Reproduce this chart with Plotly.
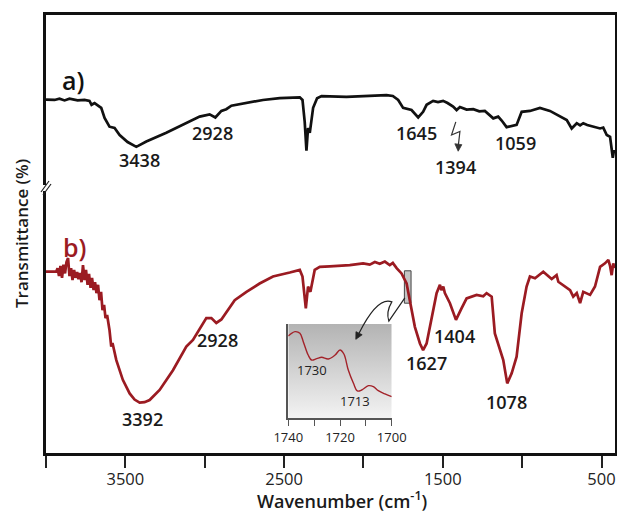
import plotly.graph_objects as go

# ---------------- data ----------------
wn_a = [4000, 3946, 3915, 3883, 3852, 3801, 3757, 3726, 3713, 3694, 3652, 3631, 3600, 3568,
        3536, 3486, 3431, 3368, 3242, 3139, 3032, 2969, 2933, 2895, 2864, 2832, 2780, 2633,
        2527, 2401, 2384, 2370, 2359, 2349, 2338, 2317, 2292, 2264, 2107, 1960, 1855, 1815,
        1781, 1750, 1697, 1655, 1624, 1602, 1561, 1530, 1498, 1470, 1435, 1413, 1392, 1350,
        1308, 1270, 1235, 1182, 1151, 1129, 1098, 1035, 1003, 951, 888, 825, 783, 719, 688,
        656, 635, 615, 590, 552, 509, 489, 467, 446, 436, 429, 421]
t_a = [80.7, 80.6, 80.9, 80.5, 80.9, 80.5, 80.6, 80.4, 79.5, 79.9, 78.8, 76.5, 74.5, 74.2,
       72.6, 71.0, 69.9, 71.1, 73.1, 74.9, 76.8, 77.3, 76.6, 78.1, 78.5, 79.3, 79.6, 80.6,
       81.0, 81.2, 80.6, 75.6, 69.0, 74.2, 73.1, 78.8, 81.0, 81.5, 81.3, 81.5, 81.7, 81.5,
       80.6, 78.8, 78.3, 76.6, 77.9, 79.5, 80.4, 80.1, 80.4, 79.9, 79.1, 78.3, 79.0, 78.4,
       78.5, 78.0, 78.1, 76.4, 76.8, 75.9, 74.4, 74.9, 77.9, 78.1, 78.8, 78.1, 77.2, 76.0, 74.1,
       75.3, 74.8, 75.3, 74.9, 74.5, 74.1, 74.3, 72.6, 72.2, 68.8, 67.4, 69.2]

wn_b = [4000, 3936, 3927, 3918, 3909, 3899, 3890, 3880, 3871, 3861, 3852, 3842, 3833, 3823,
        3814, 3804, 3795, 3786, 3776, 3767, 3757, 3748, 3738, 3729, 3719, 3710, 3700, 3691,
        3682, 3672, 3663, 3653, 3644, 3634, 3625, 3615, 3600, 3589, 3581, 3557, 3516, 3473,
        3442, 3410, 3379, 3347, 3284, 3200, 3116, 3074, 2990, 2958, 2927, 2895, 2811, 2737,
        2654, 2570, 2464, 2401, 2384, 2363, 2349, 2334, 2307, 2275, 2212, 2086, 2002, 1960,
        1928, 1897, 1865, 1834, 1815, 1791, 1760, 1728, 1708, 1676, 1644, 1624, 1602, 1571,
        1539, 1518, 1509, 1497, 1487, 1455, 1417, 1382, 1350, 1287, 1245, 1224, 1192, 1172,
        1140, 1119, 1094, 1066, 1035, 1003, 972, 951, 919, 867, 814, 783, 772, 698, 678, 656,
        635, 615, 572, 541, 509, 478, 457, 446, 436, 426, 418]
t_b = [41.4, 41.4, 42.2, 40.4, 42.7, 40.0, 43.0, 41.0, 43.6, 44.5, 40.4, 42.2, 39.5, 41.8,
       40.0, 41.3, 39.7, 41.1, 39.0, 42.9, 39.5, 41.8, 38.4, 40.9, 37.7, 40.0, 37.2, 39.0,
       36.5, 38.4, 34.9, 36.8, 32.6, 33.8, 30.8, 31.5, 28.1, 24.3, 25.1, 21.2, 16.7, 13.6,
       12.2, 11.5, 11.6, 12.1, 14.4, 18.9, 24.3, 25.8, 30.8, 30.8, 29.7, 30.5, 34.9, 36.8,
       38.7, 40.3, 41.2, 41.8, 40.3, 33.0, 38.0, 36.8, 41.8, 42.5, 42.6, 42.9, 43.3, 43.0,
       43.6, 43.2, 43.7, 42.9, 43.4, 42.2, 41.0, 38.7, 34.9, 28.8, 25.0, 23.5, 25.0, 31.1,
       36.5, 38.4, 37.2, 38.0, 36.5, 34.2, 30.4, 33.0, 35.3, 36.1, 35.8, 36.5, 35.7, 27.3,
       23.5, 21.2, 15.9, 18.2, 22.0, 31.9, 38.0, 40.3, 39.9, 41.4, 39.7, 40.6, 39.1, 37.2, 35.7,
       36.5, 34.2, 36.8, 36.1, 38.0, 42.5, 43.3, 44.1, 42.7, 40.6, 43.3, 42.2]

wn_inset = [1740, 1737.4, 1735.5, 1734.2, 1732.3, 1731, 1729, 1727.1, 1724.5, 1721.9, 1720,
            1718.5, 1716.8, 1714.8, 1713.3, 1711.6, 1709, 1707.1, 1705.2, 1702.6, 1700]
t_inset = [87.3, 91.9, 90.1, 81.3, 67.1, 61.8, 63.3, 64.7, 62.9, 67.1, 72.4, 68.2, 51.2,
           37.1, 29.0, 30.0, 34.6, 33.6, 29.3, 25.8, 23.0]

labels_a = ["3438", "2928", "1645", "1394", "1059"]
labels_a_x = [3410, 2950, 1663, 1418, 1045]
labels_a_y = [66.9, 73.0, 73.1, 65.3, 70.7]

labels_b = ["3392", "2928", "1627", "1404", "1078"]
labels_b_x = [3391, 2917, 1602, 1424, 1098]
labels_b_y = [7.8, 25.8, 20.5, 26.6, 11.7]

inset_labels = ["1730", "1713"]
inset_labels_x = [1730.9, 1714.2]
inset_labels_y = [51.2, 18.3]

main_range = [4000, 415]
inset_range = [1740, 1700]

RED = "#9b1b22"
FONT = "Open Sans"

fig = go.Figure()

fig.add_trace(go.Scatter(x=wn_a, y=t_a, mode="lines",
                         line=dict(color="#111111", width=2.7), hoverinfo="skip"))
fig.add_trace(go.Scatter(x=wn_b, y=t_b, mode="lines",
                         line=dict(color=RED, width=2.7), hoverinfo="skip"))

# inset background (gradient)
fig.add_trace(go.Scatter(x=[inset_range[0], inset_range[1], inset_range[1], inset_range[0], inset_range[0]],
                         y=[0, 0, 100, 100, 0], mode="lines", fill="toself",
                         fillgradient=dict(type="vertical",
                                           colorscale=[[0, "#f3f3f3"], [1, "#b3b3b3"]]),
                         line=dict(width=0), xaxis="x2", yaxis="y2", hoverinfo="skip"))
fig.add_trace(go.Scatter(x=wn_inset, y=t_inset, mode="lines",
                         line=dict(color="#a3232a", width=1.4, shape="spline"),
                         xaxis="x2", yaxis="y2", hoverinfo="skip"))

ann = []
for txt, x, y in zip(labels_a, labels_a_x, labels_a_y):
    ann.append(dict(text=txt, x=x, y=y, xref="x", yref="y", showarrow=False,
                    font=dict(family=FONT, size=18, color="#1a1a1a", weight=600)))
for txt, x, y in zip(labels_b, labels_b_x, labels_b_y):
    ann.append(dict(text=txt, x=x, y=y, xref="x", yref="y", showarrow=False,
                    font=dict(family=FONT, size=18, color="#1a1a1a", weight=600)))
for txt, x, y in zip(inset_labels, inset_labels_x, inset_labels_y):
    ann.append(dict(text=txt, x=x, y=y, xref="x2", yref="y2", showarrow=False,
                    font=dict(family=FONT, size=13, color="#222222")))

ann.append(dict(text="a)", x=3833, y=85.2, xref="x", yref="y", showarrow=False,
                font=dict(family=FONT, size=25, color="#111111", weight=600)))
ann.append(dict(text="b)", x=3820, y=47.1, xref="x", yref="y", showarrow=False,
                font=dict(family=FONT, size=25, color=RED, weight=600)))

# axis titles
ann.append(dict(text="Wavenumber (cm<sup>-1</sup>)", x=(342 - 46) / 569, y=(453 - 500) / 438,
                xref="paper", yref="paper",
                showarrow=False, xanchor="center", yanchor="middle",
                font=dict(family=FONT, size=18, color="#1a1a1a", weight=600)))
ann.append(dict(text="Transmittance (%)", x=(21 - 46) / 569, y=0.5, xref="paper", yref="paper",
                textangle=-90, showarrow=False, xanchor="center", yanchor="middle",
                font=dict(family=FONT, size=17, color="#1a1a1a", weight=600)))

shapes = [
    # callout box on spectrum b
    dict(type="rect", xref="x", yref="y", x0=1742, x1=1700, y0=34.2, y1=41.6,
         fillcolor="#c4c4c4", line=dict(color="#444444", width=1), layer="below"),
    # curvy connector to inset
    dict(type="path", xref="x", yref="y",
         path="M 1739,35.4 L 1840,30.1 Q 1859,32.2 1821,34.5 Q 1910,35.8 2027,27.4",
         line=dict(color="#222222", width=1.2)),
    dict(type="path", xref="x", yref="y", path="M 2048,25.96 L 2008,27.0 L 2047,27.7 Z",
         fillcolor="#222222", line=dict(color="#222222", width=0.8)),
    # zig-zag arrow for 1394
    dict(type="path", xref="x", yref="y",
         path="M 1418,75.6 L 1445,72.6 L 1392,73.4 L 1402,70.3",
         line=dict(color="#333333", width=1.2)),
    dict(type="path", xref="x", yref="y", path="M 1403,68.9 L 1424,70.6 L 1380,70.4 Z",
         fillcolor="#333333", line=dict(color="#333333", width=0.8)),
    # axis break marks
    dict(type="rect", xref="paper", yref="paper", x0=-0.008, x1=0.008,
         y0=(453 - 191) / 438, y1=(453 - 185) / 438, fillcolor="white", line=dict(width=0), layer="above"),
    dict(type="line", xref="paper", yref="paper", x0=(41 - 46) / 569, x1=(49 - 46) / 569,
         y0=(453 - 192) / 438, y1=(453 - 181) / 438, line=dict(color="#222222", width=1.2)),
    dict(type="line", xref="paper", yref="paper", x0=(43 - 46) / 569, x1=(51 - 46) / 569,
         y0=(453 - 195) / 438, y1=(453 - 184) / 438, line=dict(color="#222222", width=1.2)),
]

fig.update_layout(
    width=617, height=513, autosize=False,
    margin=dict(l=46, r=2, t=15, b=60, autoexpand=False),
    paper_bgcolor="white", plot_bgcolor="white",
    showlegend=False,
    annotations=ann, shapes=shapes,
    xaxis=dict(range=main_range, tick0=500, dtick=1000,
               ticks="outside", ticklen=12, tickwidth=1.8, tickcolor="#222222",
               ticklabelstandoff=-3,
               minor=dict(tick0=0, dtick=500, ticks="outside", ticklen=12, tickwidth=1.8,
                          tickcolor="#222222", showgrid=False),
               showline=True, linewidth=2.5, linecolor="#111111", mirror=True,
               showgrid=False, zeroline=False, automargin=False,
               tickfont=dict(family=FONT, size=16.5, color="#222222")),
    yaxis=dict(range=[0, 100], showticklabels=False, ticks="", showline=True, linewidth=2.5,
               linecolor="#111111", mirror=True, showgrid=False, zeroline=False, automargin=False),
    xaxis2=dict(domain=[0.4258, 0.6076], anchor="y2", range=inset_range, tick0=1700, dtick=20,
                ticks="outside", ticklen=6, tickwidth=1, tickcolor="#555555",
                minor=dict(tick0=1700, dtick=10, ticks="outside", ticklen=6, tickwidth=1,
                           tickcolor="#555555", showgrid=False),
                showline=True, linewidth=1.5, linecolor="#555555", mirror=False,
                showgrid=False, zeroline=False, automargin=False,
                tickfont=dict(family=FONT, size=13, color="#222222")),
    yaxis2=dict(domain=[0.0792, 0.2945], anchor="x2", range=[0, 100], showticklabels=False, ticks="",
                showline=True, linewidth=1.8, linecolor="#555555", mirror=False,
                showgrid=False, zeroline=False, automargin=False),
)

fig.write_html("out.html")
